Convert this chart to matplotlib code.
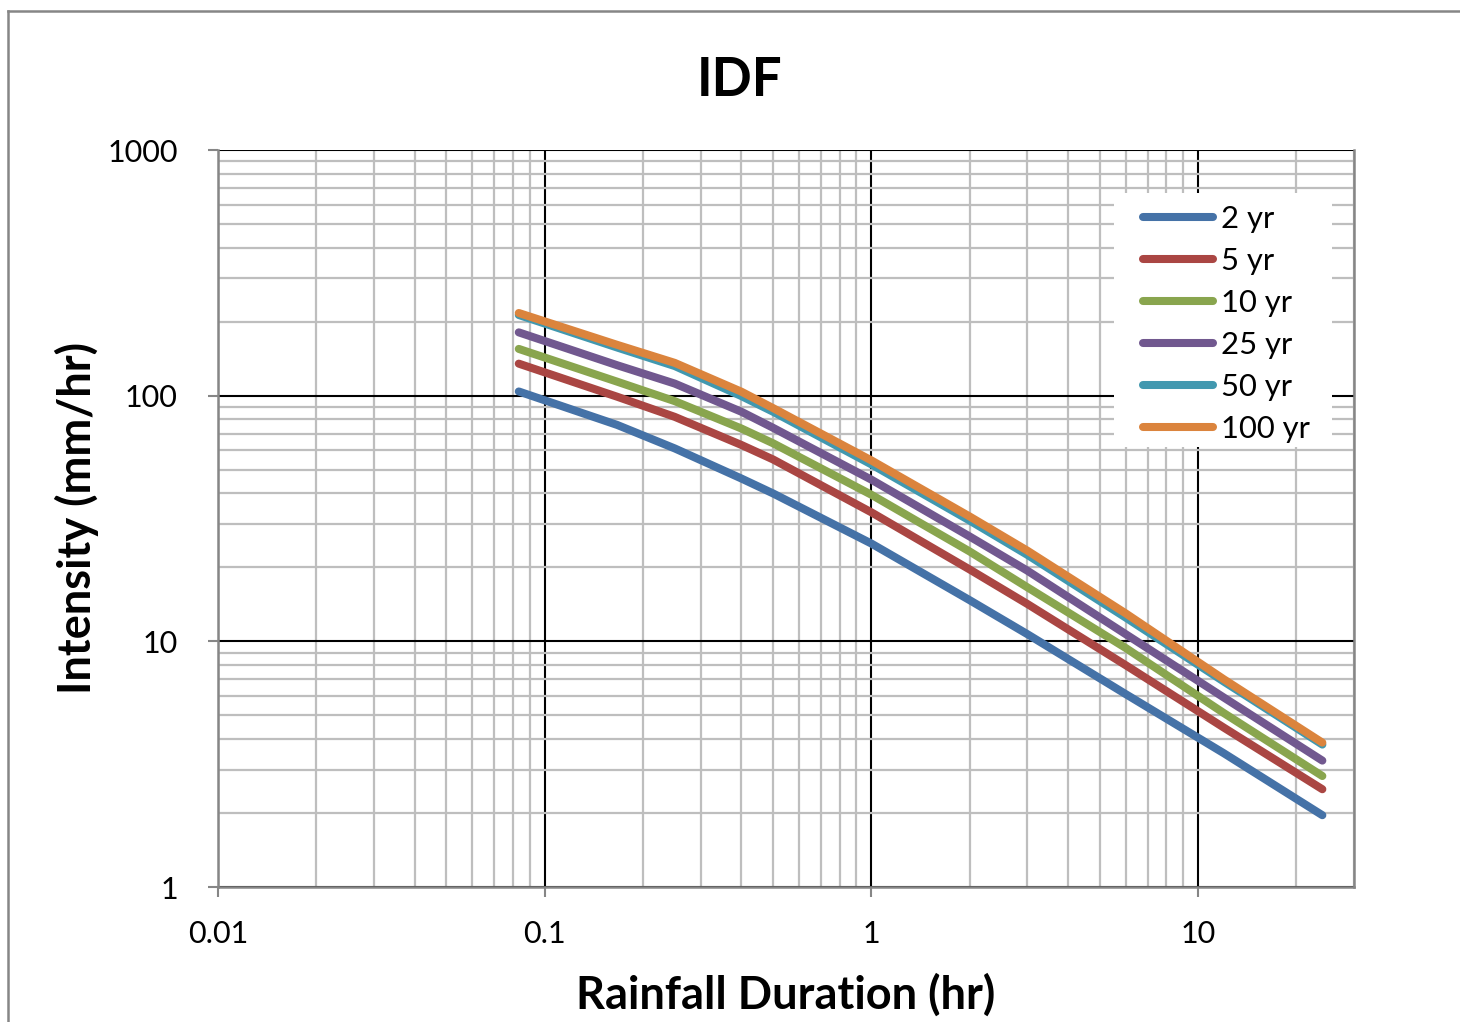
import numpy as np
import matplotlib
matplotlib.use('Agg')
import matplotlib.pyplot as plt
from matplotlib.ticker import LogLocator, FixedLocator, FixedFormatter, NullFormatter
from matplotlib.lines import Line2D
from matplotlib.patches import Rectangle

plt.rcParams['font.family'] = ['Lato', 'DejaVu Sans']

# rainfall duration (hr)
duration = [0.0833, 0.1667, 0.25, 0.4, 0.5, 1, 2, 3, 6, 12, 24]

i_2yr = [104, 76, 61, 46, 40, 25, 14.7, 10.7, 6.1, 3.5, 1.96]
i_5yr = [135, 99, 82, 63, 55, 33.5, 19.6, 14.2, 8.0, 4.45, 2.5]
i_10yr = [155, 114, 95, 73.5, 64, 39.5, 23.2, 16.6, 9.4, 5.1, 2.83]
i_25yr = [181, 133, 112, 86, 74, 45.5, 26.7, 19.4, 10.7, 5.9, 3.27]
i_50yr = [213, 157, 132, 99.6, 86, 52.5, 31, 22.5, 12.5, 6.85, 3.8]
i_100yr = [217, 161, 136, 103.8, 89, 54.5, 32.2, 23.4, 13.0, 7.0, 3.87]

series = [('2 yr', i_2yr, '#4572A7'),
          ('5 yr', i_5yr, '#AA4643'),
          ('10 yr', i_10yr, '#89A54E'),
          ('25 yr', i_25yr, '#71588F'),
          ('50 yr', i_50yr, '#4198AF'),
          ('100 yr', i_100yr, '#DB843D')]

x_ticks = [0.01, 0.1, 1, 10]
x_ticklabels = ['0.01', '0.1', '1', '10']
y_ticks = [1, 10, 100, 1000]
y_ticklabels = ['1', '10', '100', '1000']

W, H = 1460, 1022
fig = plt.figure(figsize=(W / 100, H / 100), dpi=100)
ax = fig.add_axes([218 / W, 1 - 887 / H, (1354 - 218) / W, (887 - 150) / H])

for name, vals, col in series:
    ax.plot(duration, vals, color=col, lw=5.8, solid_capstyle='round',
            solid_joinstyle='round', label=name, zorder=3)

ax.set_xscale('log')
ax.set_yscale('log')
ax.set_xlim(0.01, 30)
ax.set_ylim(1, 1000)

ax.xaxis.set_major_locator(FixedLocator(x_ticks))
ax.xaxis.set_major_formatter(FixedFormatter(x_ticklabels))
ax.yaxis.set_major_locator(FixedLocator(y_ticks))
ax.yaxis.set_major_formatter(FixedFormatter(y_ticklabels))
ax.xaxis.set_minor_locator(LogLocator(base=10, subs=np.arange(2, 10), numticks=20))
ax.yaxis.set_minor_locator(LogLocator(base=10, subs=np.arange(2, 10), numticks=20))
ax.xaxis.set_minor_formatter(NullFormatter())
ax.yaxis.set_minor_formatter(NullFormatter())

ax.grid(True, which='minor', color='#BEBEBE', lw=1.6, zorder=1)
ax.grid(True, which='major', color='black', lw=1.5, zorder=2)
ax.set_axisbelow(True)

ax.tick_params(axis='both', which='major', direction='out', length=7, width=1.5,
               color='#868686', labelsize=22)
ax.tick_params(axis='y', pad=22)
ax.tick_params(axis='x', pad=17)
ax.tick_params(axis='both', which='minor', length=0)

for side in ['left', 'bottom', 'right']:
    ax.spines[side].set_color('#868686')
    ax.spines[side].set_linewidth(1.8)
ax.spines['top'].set_visible(False)

ax.set_xlabel('Rainfall Duration (hr)', fontsize=32.5, fontweight='bold')
ax.set_ylabel('Intensity (mm/hr)', fontsize=32.5, fontweight='bold')
ax.xaxis.set_label_coords(0.5, -0.117)
ax.yaxis.set_label_coords(-0.105, 0.5)
fig.text(740 / W, 1 - 81 / H, 'IDF', fontsize=38, fontweight='bold', ha='center', va='center')

# white legend panel
ax.add_patch(Rectangle(((1114 - 218) / 1136, (887 - 447) / 737), 218 / 1136, 254 / 737,
                       transform=ax.transAxes, facecolor='white', edgecolor='none', zorder=2.5))
leg = ax.legend(loc='upper left', bbox_to_anchor=((1134 - 218) / 1136, (887 - 196) / 737),
                fontsize=22.3, frameon=False, handlelength=2.26, handletextpad=0.26,
                labelspacing=0.45, borderpad=0.3, borderaxespad=0)
leg.set_zorder(4)
for h in leg.get_lines():
    h.set_linewidth(5.8)
    h.set_solid_capstyle('round')

# outer chart border (left and top edges visible)
fig.add_artist(Line2D([8 / W, 8 / W], [0, 1 - 11 / H], color='#868686', lw=1.8))
fig.add_artist(Line2D([8 / W, 1], [1 - 11 / H, 1 - 11 / H], color='#868686', lw=1.8))

fig.savefig('out.png', dpi=100, facecolor='white')
